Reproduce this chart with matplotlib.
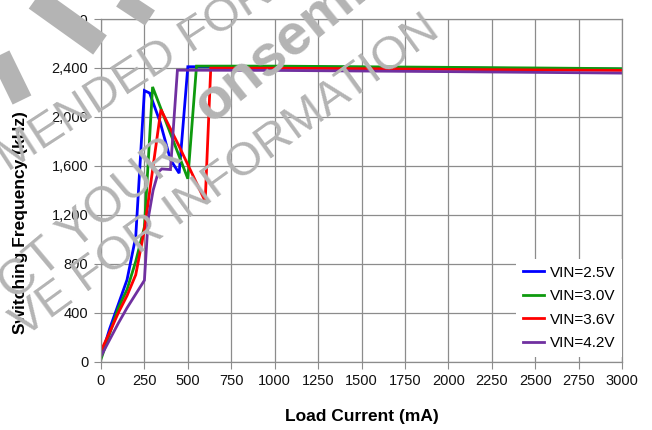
import numpy as np
import matplotlib
matplotlib.use("Agg")
import matplotlib.pyplot as plt
from matplotlib.ticker import FuncFormatter
from matplotlib.lines import Line2D

plt.rcParams['font.family'] = ['Liberation Sans', 'DejaVu Sans']

# switching frequency (kHz) vs load current (mA)
x25 = [0, 50, 100, 150, 200, 250, 280, 340, 400, 450, 500, 1000, 1500, 2000, 2500, 3000]
f25 = [40, 270, 470, 670, 1020, 2215, 2195, 1960, 1650, 1540, 2410, 2410, 2405, 2400, 2395, 2390]

x30 = [0, 50, 100, 150, 200, 250, 297, 500, 550, 1000, 1500, 2000, 2500, 3000]
f30 = [20, 230, 440, 590, 820, 1100, 2245, 1495, 2415, 2415, 2410, 2405, 2400, 2394]

x36 = [0, 50, 100, 150, 200, 250, 345, 450, 600, 632, 1000, 1500, 2000, 2500, 3000]
f36 = [90, 240, 400, 540, 710, 1080, 2060, 1760, 1310, 2398, 2398, 2394, 2388, 2384, 2380]

x42 = [0, 50, 100, 150, 250, 272, 300, 330, 350, 400, 440, 1000, 1500, 2000, 2500, 3000]
f42 = [45, 180, 315, 440, 665, 1170, 1400, 1550, 1575, 1570, 2382, 2380, 2375, 2370, 2364, 2358]

series = [
    ("VIN=2.5V", x25, f25, "#0000ff"),
    ("VIN=3.0V", x30, f30, "#0e9a0e"),
    ("VIN=3.6V", x36, f36, "#ff0000"),
    ("VIN=4.2V", x42, f42, "#7030a0"),
]

xticks = np.arange(0, 3001, 250)
yticks = np.arange(0, 2801, 400)

W, H = 652, 430
fig = plt.figure(figsize=(W / 100, H / 100), dpi=100)
ax = fig.add_axes([0.1549, 0.1588, 0.7991, 0.7970])

for name, xs, ys, c in series:
    ax.plot(xs, ys, color=c, lw=2.0, label=name, solid_joinstyle='miter')

ax.set_xlim(0, 3000)
ax.set_ylim(0, 2800)
ax.set_xticks(xticks)
ax.set_yticks(yticks)
ax.yaxis.set_major_formatter(FuncFormatter(lambda v, p: f"{int(v):,}"))
ax.grid(True, color="#8c8c8c", lw=0.9)
ax.set_axisbelow(True)
for s in ax.spines.values():
    s.set_color("#8c8c8c")
    s.set_linewidth(0.9)
ax.tick_params(axis='both', length=5, color="#8c8c8c", labelsize=10.5,
               labelcolor="#111111", pad=4)

ax.set_xlabel("Load Current (mA)", fontsize=12.5, fontweight='bold', labelpad=15)
ax.set_ylabel("Switching Frequency (kHz)", fontsize=12.5, fontweight='bold')
ax.yaxis.set_label_coords(-0.14, 0.405)

leg = ax.legend(loc='lower right', bbox_to_anchor=(1.0, 0.014), borderaxespad=0,
                fontsize=11, handlelength=1.4, handletextpad=0.35,
                labelspacing=0.62, fancybox=False, framealpha=1,
                borderpad=0.45)
leg.get_frame().set_edgecolor('none')
leg.get_frame().set_facecolor('white')

# diagonal notice stamped across the chart (positions in pixels from top-left)
grey = "#b4b4b4"
def stamp(px, py, txt, size=34, rot=34, **kw):
    fig.text(px / W, 1 - py / H, txt, fontsize=size, color=grey, rotation=rot,
             rotation_mode='anchor', ha='left', va='baseline', zorder=10, **kw)

stamp(8, 172, "MENDED FOR", rot=33)
stamp(14, 302, "CT YOUR", size=36, rot=40)
stamp(210, 124, "onsemi", size=42, rot=39, fontweight='bold')
stamp(24, 338, "VE FOR INFORMATION", rot=36)

# pieces of the oversized lettering in the top-left corner
for (x0, y0, x1, y1, w) in [(30, -5, 100, 45, 17), (0, 55, 22, 100, 15),
                            (115, -5, 150, 18, 13)]:
    fig.add_artist(Line2D([x0 / W, x1 / W], [1 - y0 / H, 1 - y1 / H],
                          transform=fig.transFigure, color=grey, lw=w,
                          solid_capstyle='butt', zorder=10))

fig.savefig("out.png", dpi=100)
